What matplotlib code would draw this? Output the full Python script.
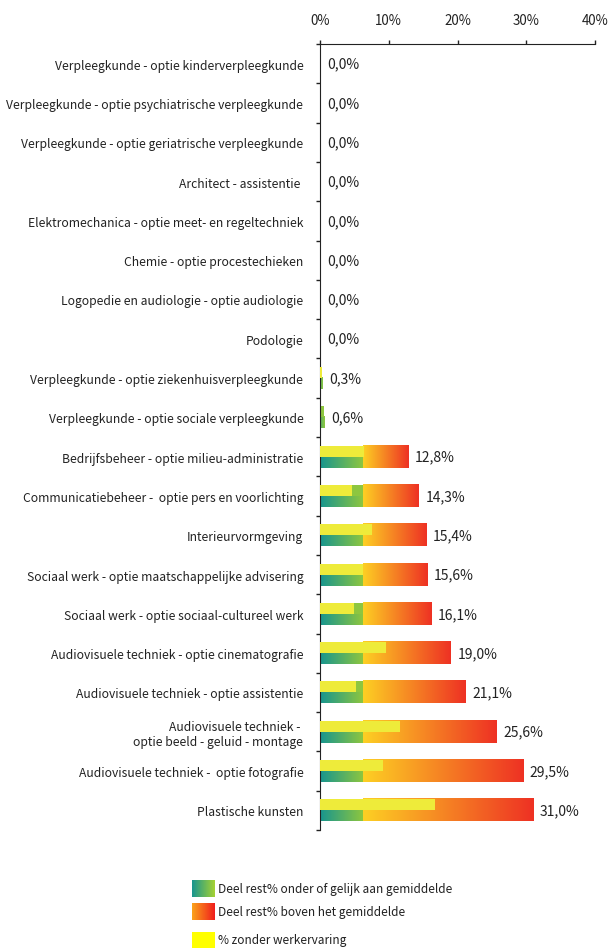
import numpy as np
import matplotlib
matplotlib.use('Agg')
import matplotlib.pyplot as plt
import matplotlib.font_manager as fm
from matplotlib.colors import LinearSegmentedColormap

categories = [
    'Verpleegkunde - optie kinderverpleegkunde',
    'Verpleegkunde - optie psychiatrische verpleegkunde',
    'Verpleegkunde - optie geriatrische verpleegkunde',
    'Architect - assistentie ',
    'Elektromechanica - optie meet- en regeltechniek',
    'Chemie - optie procestechieken',
    'Logopedie en audiologie - optie audiologie',
    'Podologie',
    'Verpleegkunde - optie ziekenhuisverpleegkunde',
    'Verpleegkunde - optie sociale verpleegkunde',
    'Bedrijfsbeheer - optie milieu-administratie',
    'Communicatiebeheer -  optie pers en voorlichting',
    'Interieurvormgeving',
    'Sociaal werk - optie maatschappelijke advisering',
    'Sociaal werk - optie sociaal-cultureel werk',
    'Audiovisuele techniek - optie cinematografie',
    'Audiovisuele techniek - optie assistentie',
    'Audiovisuele techniek - \noptie beeld - geluid - montage',
    'Audiovisuele techniek -  optie fotografie',
    'Plastische kunsten',
]
total_pct = [0.0, 0.0, 0.0, 0.0, 0.0, 0.0, 0.0, 0.0, 0.3, 0.6,
             12.8, 14.3, 15.4, 15.6, 16.1, 19.0, 21.1, 25.6, 29.5, 31.0]
no_experience_pct = [0.0, 0.0, 0.0, 0.0, 0.0, 0.0, 0.0, 0.0, 0.3, 0.0,
                     6.4, 4.7, 7.5, 6.3, 4.9, 9.6, 5.2, 11.7, 9.2, 16.7]
average_pct = 6.2
x_ticks = [0, 10, 20, 30, 40]
legend_labels = ['Deel rest% onder of gelijk aan gemiddelde',
                 'Deel rest% boven het gemiddelde',
                 '% zonder werkervaring']

# narrow-ish sans (Source Sans style latin glyphs)
base_fp = fm.FontProperties(family=['Noto Sans CJK SC', 'Roboto', 'DejaVu Sans'])

teal_green = LinearSegmentedColormap.from_list('tg', ['#17958f', '#8dc63f'])
orange_red = LinearSegmentedColormap.from_list('or', ['#fdd023', '#ee3124'])
yellow = '#eeeb3a'
solid_green = '#8dc63f'
text_color = '#222222'

fig = plt.figure(figsize=(6.11, 9.53), dpi=100)
renderer = fig.canvas.get_renderer()


def fitted(text, width_px):
    # font size that makes `text` about width_px wide
    fp = base_fp.copy()
    fp.set_size(10)
    t = fig.text(0, 0, text, fontproperties=fp)
    w = t.get_window_extent(renderer).width
    t.remove()
    fp.set_size(10 * width_px / w)
    return fp


fp_cat = fitted('Verpleegkunde - optie psychiatrische verpleegkunde', 296)
fp_val = fitted('12,8%', 40)
fp_tick = fitted('10%', 27)
fp_leg = fitted('Deel rest% onder of gelijk aan gemiddelde', 234)

ax = fig.add_axes([320 / 611, 1 - 831 / 953, 275 / 611, 786 / 953])

grad = np.linspace(0, 1, 256).reshape(1, -1)
h = 0.56
for i, (tot, yel) in enumerate(zip(total_pct, no_experience_pct)):
    top, mid, bot = i - h / 2, i, i + h / 2
    if tot > 0:
        g_end = min(tot, average_pct)
        # bottom half: gradient up to the average
        ax.imshow(np.linspace(0.55, 1, 256).reshape(1, -1) if tot < average_pct
                  else grad, cmap=teal_green, vmin=0, vmax=1,
                  extent=(0, g_end, bot, mid), aspect='auto', interpolation='bilinear')
        # top half: solid green up to the average
        ax.fill_between([0, g_end], top, mid, color=solid_green, lw=0)
        if tot > average_pct:
            ax.imshow(grad, cmap=orange_red, extent=(average_pct, tot, bot, top),
                      aspect='auto', interpolation='bilinear')
        if yel > 0:
            ax.fill_between([0, yel], top, mid, color=yellow, lw=0, zorder=3)
    ax.annotate(f'{tot:.1f}%'.replace('.', ','), (tot, i), xytext=(5, 0),
                textcoords='offset points', va='center', ha='left',
                fontproperties=fp_val, color=text_color)

ax.set_xlim(0, 40)
ax.set_ylim(len(categories) - 0.5, -0.5)

ax.xaxis.tick_top()
ax.set_xticks(x_ticks)
ax.set_xticklabels([f'{t}%' for t in x_ticks], fontproperties=fp_tick, color=text_color)
ax.tick_params(axis='x', direction='out', length=3, width=1, pad=9, colors=text_color)

ax.set_yticks(range(len(categories)))
ax.set_yticklabels(categories, fontproperties=fp_cat, color=text_color)
ax.set_yticks(np.arange(-0.5, len(categories), 1), minor=True)
ax.tick_params(axis='y', which='major', length=0, pad=12)
ax.tick_params(axis='y', which='minor', length=3, width=1, direction='out', colors=text_color)

for s in ['right', 'bottom']:
    ax.spines[s].set_visible(False)
ax.spines['left'].set_color(text_color)
ax.spines['top'].set_color(text_color)

# legend, drawn in figure pixels
leg = fig.add_axes([0, 0, 1, 1], zorder=-1)
leg.imshow(grad, cmap=LinearSegmentedColormap.from_list('l1', ['#17958f', '#a6d233']),
           extent=(192, 215, 898, 881), aspect='auto')
leg.imshow(grad, cmap=LinearSegmentedColormap.from_list('l2', ['#fba31a', '#f01d1d']),
           extent=(192, 215, 921, 904), aspect='auto')
leg.fill_between([192, 215], 933, 949, color='#ffff00', lw=0)
for y, t in zip([890, 913, 941], legend_labels):
    leg.text(218, y, t, va='center', ha='left', fontproperties=fp_leg, color=text_color)
leg.set_xlim(0, 611)
leg.set_ylim(953, 0)
leg.axis('off')

fig.savefig('out.png', dpi=100)
